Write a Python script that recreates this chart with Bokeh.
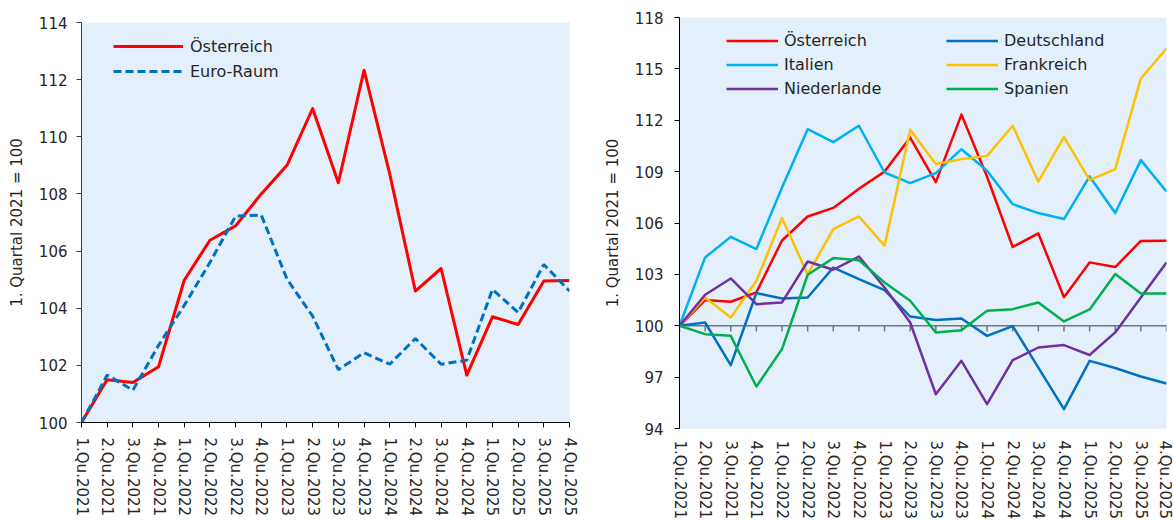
from bokeh.plotting import figure
from bokeh.models import Range1d, FixedTicker, Legend, LegendItem
from bokeh.embed import file_html
from bokeh.resources import INLINE

QUARTERS = ["1.Qu.2021", "2.Qu.2021", "3.Qu.2021", "4.Qu.2021",
            "1.Qu.2022", "2.Qu.2022", "3.Qu.2022", "4.Qu.2022",
            "1.Qu.2023", "2.Qu.2023", "3.Qu.2023", "4.Qu.2023",
            "1.Qu.2024", "2.Qu.2024", "3.Qu.2024", "4.Qu.2024",
            "1.Qu.2025", "2.Qu.2025", "3.Qu.2025", "4.Qu.2025"]

OESTERREICH = [100.0, 101.5, 101.4, 101.95, 104.98, 106.38, 106.88, 108.0, 109.0, 110.99,
               108.39, 112.33, 108.7, 104.6, 105.39, 101.66, 103.7, 103.43, 104.95, 104.97]
EURO_RAUM = [100.0, 101.66, 101.13, 102.7, 104.1, 105.6, 107.22, 107.26, 105.02, 103.72,
             101.85, 102.44, 102.04, 102.94, 102.04, 102.18, 104.66, 103.85, 105.53, 104.6]

DEUTSCHLAND = [100.0, 100.19, 97.7, 101.91, 101.59, 101.65, 103.4, 102.72, 102.08, 100.54,
               100.33, 100.42, 99.41, 99.98, 97.56, 95.13, 97.95, 97.53, 97.04, 96.63]
ITALIEN = [100.0, 103.99, 105.19, 104.48, 108.07, 111.48, 110.72, 111.68, 108.95, 108.33,
           108.91, 110.31, 109.05, 107.1, 106.58, 106.23, 108.72, 106.58, 109.67, 107.84]
FRANKREICH = [100.0, 101.65, 100.48, 102.62, 106.29, 103.0, 105.64, 106.38, 104.67, 111.44,
              109.44, 109.73, 109.92, 111.68, 108.41, 111.03, 108.5, 109.15, 114.44, 116.19]
NIEDERLANDE = [100.0, 101.81, 102.76, 101.26, 101.36, 103.75, 103.27, 104.04, 102.23, 100.19,
               96.0, 97.95, 95.42, 97.99, 98.73, 98.87, 98.29, 99.61, 101.65, 103.69]
SPANIEN = [100.0, 99.51, 99.41, 96.45, 98.64, 102.98, 103.95, 103.83, 102.53, 101.46,
           99.61, 99.74, 100.87, 100.97, 101.36, 100.25, 100.95, 103.02, 101.88, 101.88]

LEFT_Y_TICKS = [100, 102, 104, 106, 108, 110, 112, 114]
RIGHT_Y_TICKS = [94, 97, 100, 103, 106, 109, 112, 115, 118]
BASE = 100
Y_TITLE = "1. Quartal 2021 = 100"

FONT = "DejaVu Sans"
TEXT = "#262626"
BG = "#E3F0FC"

idx = list(range(len(QUARTERS)))
labels = {i: q for i, q in enumerate(QUARTERS)}


def base_fig(width, height, mbl, mbr, mbt, mbb, yticks):
    p = figure(width=width, height=height,
               x_range=Range1d(idx[0], idx[-1]),
               y_range=Range1d(yticks[0], yticks[-1]),
               output_backend="svg", toolbar_location=None,
               min_border_left=mbl, min_border_right=mbr,
               min_border_top=mbt, min_border_bottom=mbb)
    p.background_fill_color = BG
    p.border_fill_color = "white"
    p.outline_line_color = None
    p.grid.visible = False
    p.xaxis.ticker = FixedTicker(ticks=idx)
    p.xaxis.major_label_overrides = labels
    p.xaxis.major_label_orientation = "vertical"
    p.yaxis.ticker = FixedTicker(ticks=yticks)
    for ax in (p.xaxis, p.yaxis):
        ax.major_label_text_font = FONT
        ax.major_label_text_font_size = "15px"
        ax.major_label_text_color = TEXT
        ax.minor_tick_line_color = None
        ax.major_tick_in = 0
        ax.major_tick_out = 5
    p.yaxis.axis_label = Y_TITLE
    p.yaxis.axis_label_text_font = FONT
    p.yaxis.axis_label_text_font_size = "15px"
    p.yaxis.axis_label_text_font_style = "normal"
    p.yaxis.axis_label_text_color = TEXT
    return p


# ---------- left chart ----------
p1 = base_fig(600, 522, 81, 31, 22, 100, LEFT_Y_TICKS)
p1.xaxis.axis_line_color = "black"
p1.xaxis.major_tick_line_color = "black"
p1.xaxis.major_label_standoff = 10
p1.yaxis.axis_line_color = "#404040"
p1.yaxis.major_tick_line_color = "#404040"
p1.yaxis.major_label_standoff = 9
p1.yaxis.axis_label_standoff = 10

r_at = p1.line(idx, OESTERREICH, line_color="#FF0000", line_width=3, line_join="round")
r_eu = p1.line(idx, EURO_RAUM, line_color="#0070C0", line_width=3, line_dash="8 4")

leg1 = Legend(items=[LegendItem(label="Österreich", renderers=[r_at]),
                     LegendItem(label="Euro-Raum", renderers=[r_eu])],
              location=(32, 340), orientation="vertical", padding=0, margin=0, spacing=3,
              glyph_width=70, glyph_height=22, label_height=22, label_standoff=7,
              label_text_font=FONT, label_text_font_size="16px", label_text_color=TEXT,
              background_fill_alpha=0, border_line_color=None)
p1.add_layout(leg1)

# ---------- right chart ----------
p2 = base_fig(573, 522, 78, 7, 17, 94, RIGHT_Y_TICKS)
p2.styles = {"position": "absolute", "left": "600px", "top": "0px"}
p2.xaxis.axis_line_color = None
p2.xaxis.major_tick_line_color = None
p2.xaxis.major_tick_out = 0
p2.xaxis.major_label_standoff = 12
p2.yaxis.axis_line_color = "black"
p2.yaxis.major_tick_line_color = "black"
p2.yaxis.major_label_standoff = 11
p2.yaxis.axis_label_standoff = 10

# baseline at 100 with tick marks
p2.line(idx, [BASE] * len(idx), line_color="#6E7780", line_width=1.5)
p2.segment(x0=idx, y0=[BASE] * len(idx), x1=idx, y1=[BASE - 0.33] * len(idx),
           line_color="#6E7780", line_width=1.5)

series = [("Österreich", OESTERREICH, "#FF0000"),
          ("Deutschland", DEUTSCHLAND, "#0070C0"),
          ("Italien", ITALIEN, "#00B0F0"),
          ("Frankreich", FRANKREICH, "#FFC000"),
          ("Niederlande", NIEDERLANDE, "#7030A0"),
          ("Spanien", SPANIEN, "#00B050")]
rends = {}
for name, vals, col in series:
    rends[name] = p2.line(idx, vals, line_color=col, line_width=2.5, line_join="round")

common = dict(orientation="vertical", padding=0, margin=0, spacing=3,
              glyph_width=52, glyph_height=21, label_height=21, label_standoff=6,
              label_text_font=FONT, label_text_font_size="16px", label_text_color=TEXT,
              background_fill_alpha=0, border_line_color=None)
leg2a = Legend(items=[LegendItem(label=n, renderers=[rends[n]])
                      for n in ("Österreich", "Italien", "Niederlande")],
               location=(47, 329), **common)
leg2b = Legend(items=[LegendItem(label=n, renderers=[rends[n]])
                      for n in ("Deutschland", "Frankreich", "Spanien")],
               location=(267, 329), **common)
p2.add_layout(leg2a)
p2.add_layout(leg2b)

open("out.html", "w").write(file_html([p1, p2], INLINE))
